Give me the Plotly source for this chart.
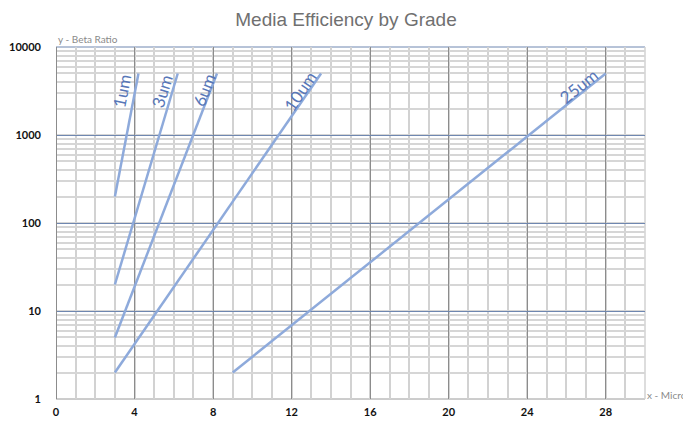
import plotly.graph_objects as go
import math

# ---- data ----
grades = ["1um", "3um", "6um", "10um", "25um"]
x_start = [3, 3, 3, 3, 9]
x_end = [4.2, 6.2, 8.2, 13.5, 28]
beta_start = [200, 20, 5, 2, 2]
beta_end = [5000, 5000, 5000, 5000, 5000]
label_x = [3.36, 5.4, 7.54, 12.43, 26.6]
label_beta = [3200, 3100, 3200, 3100, 3600]
label_angle = [-79, -73, -69, -56, -39]
y_tickvals = [1, 10, 100, 1000, 10000]
y_ticktext = ["1", "10", "100", "1000", "10000"]
x_tickvals = [0, 4, 8, 12, 16, 20, 24, 28]
x_ticktext = ["0", "4", "8", "12", "16", "20", "24", "28"]
dark_x = [12, 28]

W, H = 691, 424
OFF = 8  # page body margin offset
# screen-pixel plot box: left 56, right 645, top 47, bottom 399
L, T = 56 - OFF, 47 - OFF
R = W - (645 - OFF)
B = H - (399 - OFF)
PW, PH = W - L - R, H - T - B


def px_x(sx):
    return (sx - OFF - L) / PW


def px_y(sy):
    return (H - B - (sy - OFF)) / PH


fig = go.Figure()
for g, xs, xe, ys, ye in zip(grades, x_start, x_end, beta_start, beta_end):
    fig.add_trace(go.Scatter(x=[xs, xe], y=[ys, ye], mode="lines", name=g,
                             line=dict(color="#8eaadb", width=2.5),
                             showlegend=False, hoverinfo="skip"))

for g, lx, ly, ang in zip(grades, label_x, label_beta, label_angle):
    fig.add_annotation(x=lx, y=math.log10(ly), xref="x", yref="y", text=g,
                       textangle=ang, showarrow=False,
                       font=dict(family="Lato", size=17, color="#5877b8"))

for dx in dark_x:
    fig.add_shape(type="line", xref="x", yref="paper", x0=dx, x1=dx, y0=0, y1=1,
                  line=dict(color="#3a3a3a", width=1), layer="below")

# axis captions
fig.add_annotation(xref="paper", yref="paper", x=px_x(56), y=px_y(39),
                   text="y - Beta Ratio", showarrow=False, xanchor="left", yanchor="middle",
                   font=dict(family="Lato", size=10, color="#8a8a8a"))
fig.add_annotation(xref="paper", yref="paper", x=px_x(645), y=px_y(395),
                   text="x - Micron", showarrow=False, xanchor="left", yanchor="middle",
                   font=dict(family="Lato", size=10, color="#8a8a8a"))

# cut-off fragments at the right edge
for t, py in zip(["3", "(", "2"], [101, 139, 226]):
    fig.add_annotation(xref="paper", yref="paper", x=px_x(684), y=px_y(py),
                       text=t, showarrow=False, xanchor="left", yanchor="middle",
                       font=dict(family="Lato", size=17, color="#a0a0a0"))

fig.update_layout(
    width=W, height=H,
    margin=dict(l=L, r=R, t=T, b=B, autoexpand=False),
    paper_bgcolor="white", plot_bgcolor="white",
    title=dict(text="Media Efficiency by Grade", x=(346 - OFF) / W, xanchor="center",
               y=1 - (19 - OFF) / H, yanchor="middle", yref="container", xref="container",
               font=dict(family="Liberation Sans", size=19, color="#707070")),
    xaxis=dict(range=[0, 30], tickvals=x_tickvals, ticktext=x_ticktext, automargin=False,
               showgrid=True, gridcolor="#8c8c8c", gridwidth=1,
               zeroline=True, zerolinecolor="#8c8c8c", zerolinewidth=1,
               minor=dict(dtick=1, showgrid=True, gridcolor="#d2d2d2", gridwidth=1.5),
               showline=False, ticks="", ticklabelstandoff=5,
               tickfont=dict(family="Lato", size=11, color="#111", weight="bold")),
    yaxis=dict(type="log", range=[0, 4], tickvals=y_tickvals, ticktext=y_ticktext, automargin=False,
               showgrid=True, gridcolor="#6f87b0", gridwidth=1,
               minor=dict(dtick="D1", showgrid=True, gridcolor="#d6d6d6", gridwidth=1.5),
               showline=False, ticks="", ticklabelstandoff=14,
               tickfont=dict(family="Lato", size=11, color="#111", weight="bold")),
)
# border lines
fig.add_shape(type="line", xref="paper", yref="paper", x0=0, x1=1, y0=1, y1=1,
              line=dict(color="#6f87b0", width=1), layer="below")
fig.add_shape(type="line", xref="paper", yref="paper", x0=0, x1=1, y0=0, y1=0,
              line=dict(color="#9a9a9a", width=1), layer="below")
fig.add_shape(type="line", xref="paper", yref="paper", x0=1, x1=1, y0=0, y1=1,
              line=dict(color="#d2d2d2", width=1.5), layer="below")

fig.write_html("out.html")
